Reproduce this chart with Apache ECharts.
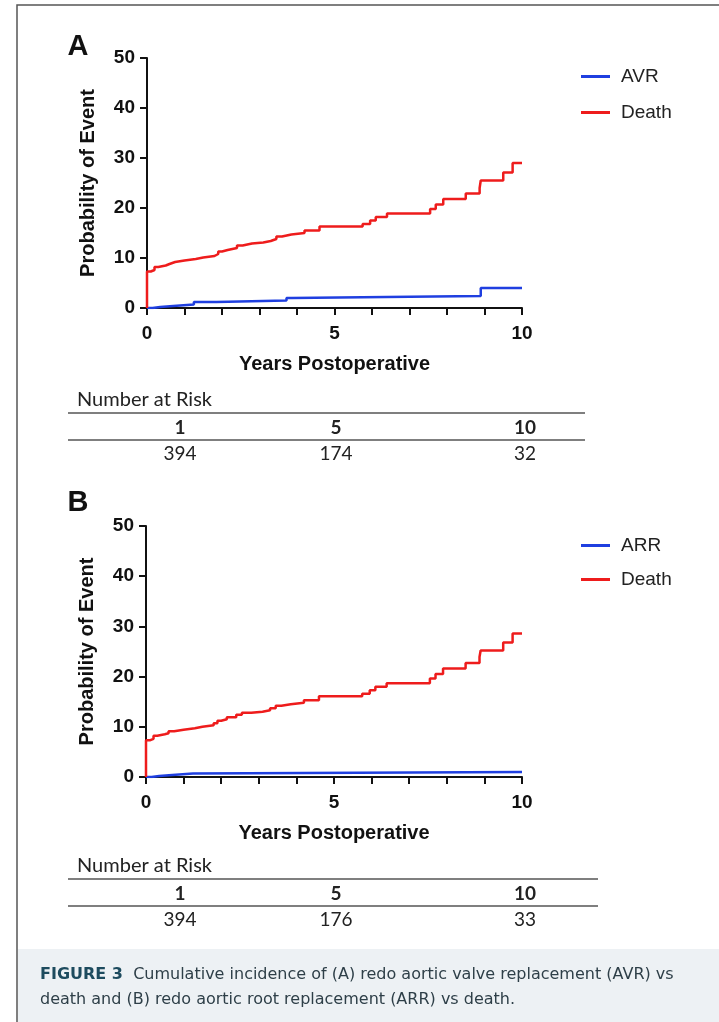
<!DOCTYPE html>
<html>
<head>
<meta charset="utf-8">
<script src="https://cdn.jsdelivr.net/npm/echarts@6/dist/echarts.min.js"></script>
<style>
  html, body { margin: 0; padding: 0; background: #fff; }
  #chart { width: 719px; height: 1022px; }
</style>
</head>
<body>
<div id="chart"></div>
<script>
// ---------- data ----------
const xTicks = [0, 5, 10];
const yTicks = [0, 10, 20, 30, 40, 50];

// Panel A: cumulative incidence (%) at event times (years)
const avrA = [[0,0],[0.15,0.2],[0.35,0.4],[0.7,0.7],[1.25,1.2],[1.85,1.5],[3.72,2.0],[3.86,2.4],[8.9,4.0],[10,4.0]];
const deathA = [[0,0],[0,7.3],[0.1,7.6],[0.2,8.2],[0.3,8.5],[0.5,8.8],[0.6,9.2],[0.75,9.5],[1.0,9.8],[1.3,10.1],[1.5,10.4],
  [1.8,10.8],[1.9,11.3],[2.0,11.6],[2.15,12.0],[2.4,12.5],[2.55,12.9],[2.8,13.1],[3.1,13.4],[3.3,13.8],[3.45,14.3],
  [3.6,14.7],[3.85,15.0],[4.2,15.5],[4.6,16.3],[5.75,16.8],[5.95,17.5],[6.1,18.2],[6.4,18.9],[7.55,19.8],[7.7,20.7],
  [7.9,21.8],[8.5,22.9],[8.87,24.0],[8.9,25.5],[9.5,27.1],[9.75,29.0],[10,29.0]];

// Panel B
const arrB = [[0,0],[0.15,0.2],[0.35,0.4],[0.7,0.7],[1.25,1.0],[10,1.0]];
const deathB = [[0,0],[0,7.3],[0.1,7.6],[0.2,8.2],[0.3,8.5],[0.5,8.7],[0.6,9.1],[0.75,9.4],[1.0,9.7],[1.3,10.0],[1.5,10.3],
  [1.8,10.7],[1.9,11.2],[2.0,11.5],[2.15,11.9],[2.4,12.4],[2.55,12.8],[2.8,13.0],[3.1,13.3],[3.3,13.7],[3.45,14.2],
  [3.6,14.5],[3.85,14.8],[4.2,15.3],[4.6,16.1],[5.75,16.6],[5.95,17.3],[6.1,18.0],[6.4,18.7],[7.55,19.6],[7.7,20.5],
  [7.9,21.6],[8.5,22.7],[8.87,23.9],[8.9,25.2],[9.5,26.8],[9.75,28.6],[10,28.6]];

// Number at risk tables
const riskYears = ['1', '5', '10'];
const riskA = ['394', '174', '32'];
const riskB = ['394', '176', '33'];

const legendA = ['AVR', 'Death'];
const legendB = ['ARR', 'Death'];

const panelLabels = ['A', 'B'];
const yTitle = 'Probability of Event';
const xTitle = 'Years Postoperative';
const captionBold = 'FIGURE 3';
const captionLine1 = 'Cumulative incidence of (A) redo aortic valve replacement (AVR) vs';
const captionLine2 = 'death and (B) redo aortic root replacement (ARR) vs death.';

// ---------- chart ----------
const BLUE = '#1f3fe0';
const RED = '#ee1c1c';
const AX = '#111';
const axisFont = 'Liberation Sans, Arial, sans-serif';

function xAxis(gi) {
  return {
    type: 'value', gridIndex: gi, min: 0, max: 10, interval: 1,
    axisLine: { show: true, lineStyle: { color: AX, width: 2 } },
    axisTick: { show: true, inside: false, length: 7, lineStyle: { color: AX, width: 2 } },
    splitLine: { show: false },
    axisLabel: {
      margin: 16, color: AX, fontFamily: axisFont, fontWeight: 'bold', fontSize: 19,
      formatter: v => (xTicks.indexOf(v) >= 0 ? String(v) : '')
    },
    name: xTitle, nameLocation: 'middle', nameGap: 46,
    nameTextStyle: { color: AX, fontFamily: axisFont, fontWeight: 'bold', fontSize: 20 }
  };
}
function yAxis(gi) {
  return {
    type: 'value', gridIndex: gi, min: 0, max: 50, interval: 10,
    axisLine: { show: true, lineStyle: { color: AX, width: 2 } },
    axisTick: { show: true, inside: false, length: 7, lineStyle: { color: AX, width: 2 } },
    splitLine: { show: false },
    axisLabel: {
      margin: 12, color: AX, fontFamily: axisFont, fontWeight: 'bold', fontSize: 19,
      formatter: v => (yTicks.indexOf(v) >= 0 ? String(v) : '')
    },
    name: yTitle, nameLocation: 'middle', nameGap: 49, nameRotate: 90,
    nameTextStyle: { color: AX, fontFamily: axisFont, fontWeight: 'bold', fontSize: 20 }
  };
}
function line(name, data, color, gi) {
  return {
    type: 'line', name, data, step: 'end', xAxisIndex: gi, yAxisIndex: gi,
    symbol: 'none', lineStyle: { color, width: 2.5 }, itemStyle: { color },
    animation: false, z: color === RED ? 3 : 2
  };
}
function legend(data, top, gap) {
  return {
    data, left: 576, top, orient: 'vertical', itemGap: gap,
    icon: 'rect', itemWidth: 29, itemHeight: 3,
    textStyle: { fontFamily: axisFont, fontSize: 19, color: '#222', padding: [0, 0, 0, 6] },
    selectedMode: false
  };
}

const tableFont = 'Lato, "Open Sans", sans-serif';
function table(top, lineEnd, years, vals) {
  const cx = [180, 336, 525];
  const els = [];
  els.push({ type: 'text', style: { text: 'Number at Risk', x: 77, y: top, fontFamily: tableFont, fontSize: 20, fill: '#222', verticalAlign: 'middle' } });
  els.push({ type: 'line', shape: { x1: 68, y1: top + 13, x2: lineEnd, y2: top + 13 }, style: { stroke: '#555', lineWidth: 1.5 } });
  els.push({ type: 'line', shape: { x1: 68, y1: top + 40, x2: lineEnd, y2: top + 40 }, style: { stroke: '#555', lineWidth: 1.5 } });
  years.forEach((y, i) => els.push({ type: 'text', style: { text: y, x: cx[i], y: top + 28, fontFamily: tableFont, fontWeight: 'bold', fontSize: 19, fill: '#222', align: 'center', verticalAlign: 'middle' } }));
  vals.forEach((v, i) => els.push({ type: 'text', style: { text: v, x: cx[i], y: top + 54, fontFamily: tableFont, fontSize: 19, fill: '#222', align: 'center', verticalAlign: 'middle' } }));
  return els;
}

const capFont = 'DejaVu Sans, sans-serif';
const graphics = [
  // figure frame
  { type: 'rect', shape: { x: 17, y: 5, width: 720, height: 1030 }, style: { fill: 'none', stroke: '#555', lineWidth: 1.5 }, z: 0 },
  // caption background
  { type: 'rect', shape: { x: 18, y: 949, width: 710, height: 80 }, style: { fill: '#edf1f4' }, z: 0 },
  { type: 'text', style: { text: panelLabels[0], x: 78, y: 47, fontFamily: axisFont, fontWeight: 'bold', fontSize: 29, fill: '#111', align: 'center', verticalAlign: 'middle' } },
  { type: 'text', style: { text: panelLabels[1], x: 78, y: 503, fontFamily: axisFont, fontWeight: 'bold', fontSize: 29, fill: '#111', align: 'center', verticalAlign: 'middle' } },
  ...table(400, 585, riskYears, riskA),
  ...table(866, 598, riskYears, riskB),
  { type: 'text', z: 5, style: {
      text: '{b|' + captionBold + '}  ' + captionLine1, x: 40, y: 975, verticalAlign: 'middle',
      fontFamily: capFont, fontSize: 16, fill: '#2e3f48',
      rich: { b: { fontFamily: capFont, fontWeight: 'bold', fontSize: 16, fill: '#1d4b5e' } }
  } },
  { type: 'text', z: 5, style: { text: captionLine2, x: 40, y: 1000, verticalAlign: 'middle', fontFamily: capFont, fontSize: 16, fill: '#2e3f48' } }
];

const chart = echarts.init(document.getElementById('chart'), null, { renderer: 'canvas' });
chart.setOption({
  animation: false,
  backgroundColor: '#fff',
  grid: [
    { left: 147, top: 58, width: 375, height: 250 },
    { left: 146, top: 526, width: 376, height: 251 }
  ],
  xAxis: [xAxis(0), xAxis(1)],
  yAxis: [yAxis(0), yAxis(1)],
  legend: [legend(legendA, 62, 17), legend(legendB, 531, 15)],
  series: [
    line('AVR', avrA, BLUE, 0),
    line('Death', deathA, RED, 0),
    line('ARR', arrB, BLUE, 1),
    line('Death', deathB, RED, 1)
  ],
  graphic: graphics
});
</script>
</body>
</html>
